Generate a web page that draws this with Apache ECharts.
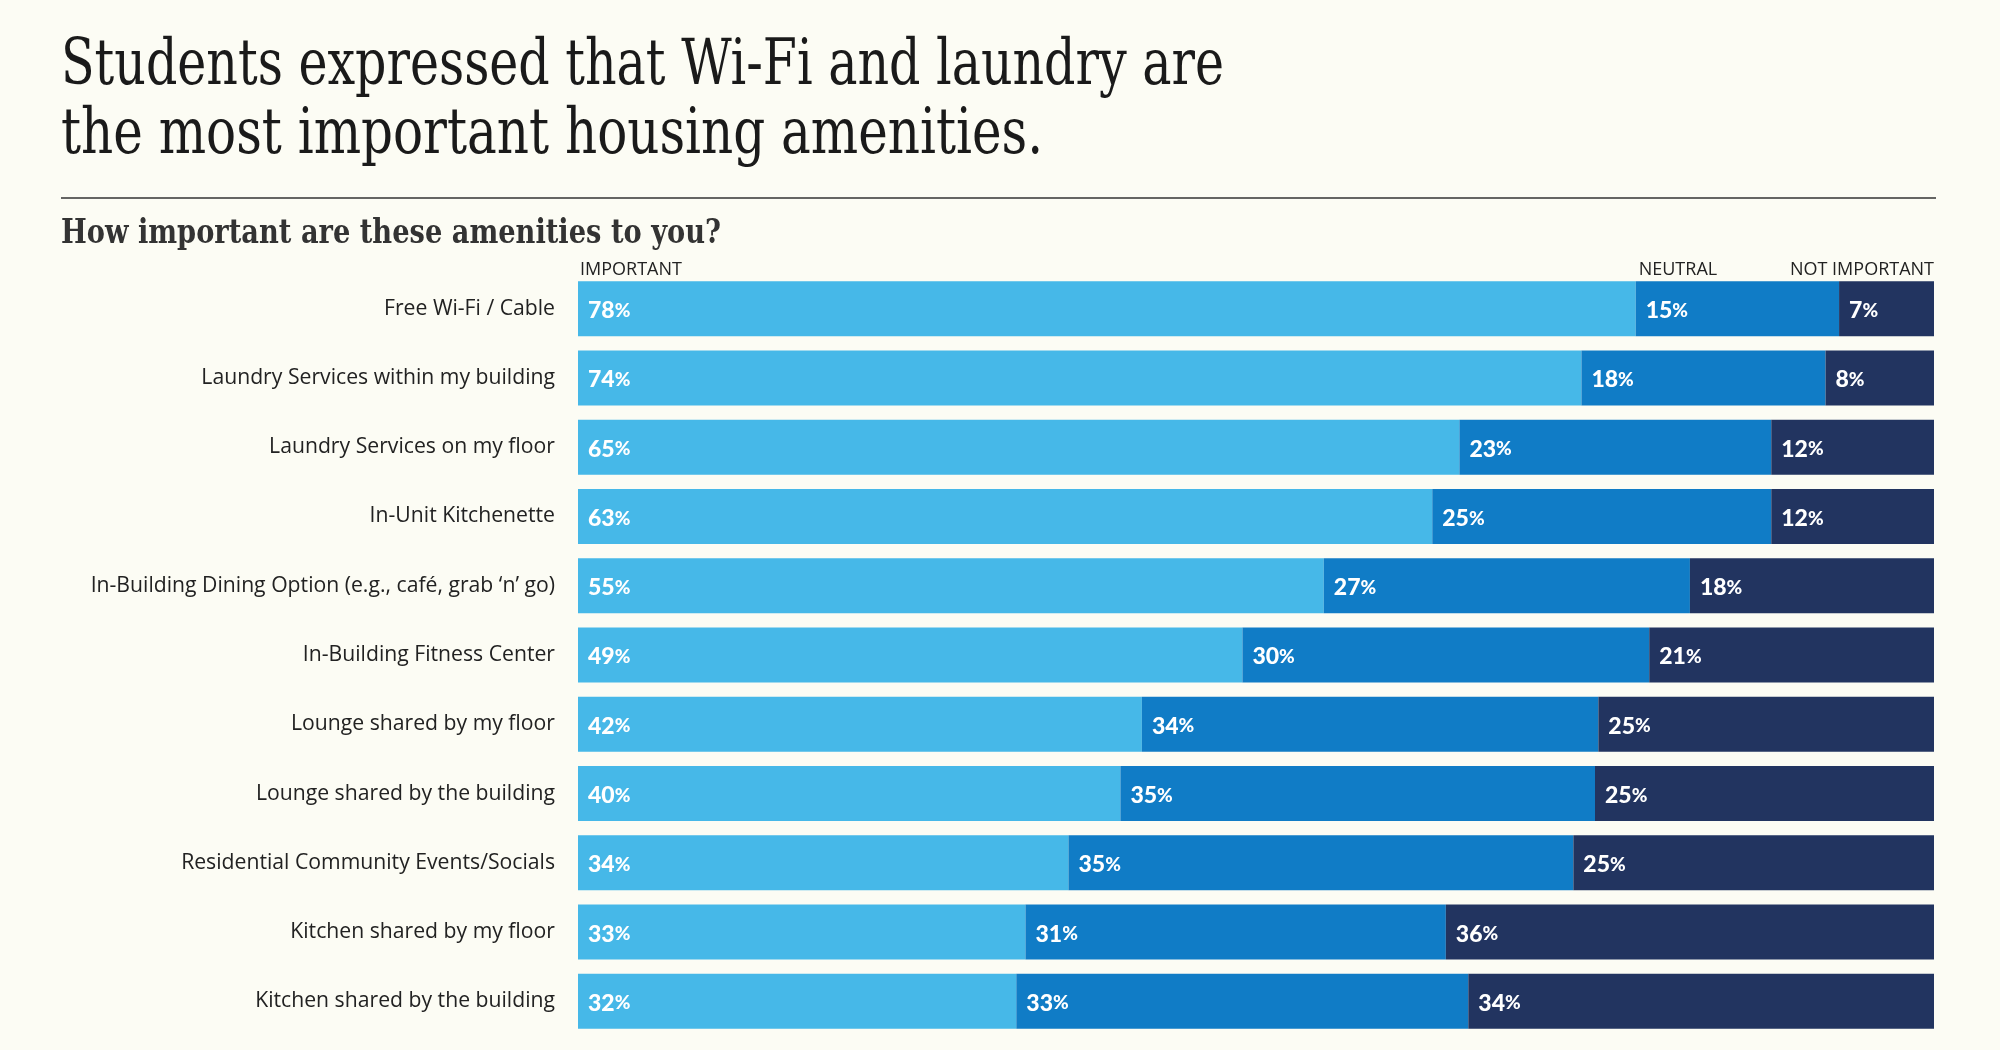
<!DOCTYPE html>
<html>
<head>
<meta charset="utf-8">
<script src="https://cdn.jsdelivr.net/npm/echarts@6/dist/echarts.min.js"></script>
<style>
  html, body { margin: 0; background: #fcfcf4; }
  #chart { width: 2000px; height: 1050px; }
</style>
</head>
<body>
<div id="chart"></div>
<script>
const categories = [
  'Free Wi-Fi / Cable',
  'Laundry Services within my building',
  'Laundry Services on my floor',
  'In-Unit Kitchenette',
  'In-Building Dining Option (e.g., café, grab ‘n’ go)',
  'In-Building Fitness Center',
  'Lounge shared by my floor',
  'Lounge shared by the building',
  'Residential Community Events/Socials',
  'Kitchen shared by my floor',
  'Kitchen shared by the building'
]
const important = [78, 74, 65, 63, 55, 49, 42, 40, 34, 33, 32]
const neutral = [15, 18, 23, 25, 27, 30, 34, 35, 35, 31, 33]
const notImportant = [7, 8, 12, 12, 18, 21, 25, 25, 25, 36, 34]
const headers = ['IMPORTANT', 'NEUTRAL', 'NOT IMPORTANT']

const titleLines = [
  'Students expressed that Wi-Fi and laundry are',
  'the most important housing amenities.'
]
const subtitle = 'How important are these amenities to you?'

// each bar is stretched to the full width, like in the original
const totals = important.map((v, i) => v + neutral[i] + notImportant[i])
const share = arr => arr.map((v, i) => v / totals[i] * 100)

const colors = ['#46b8e8', '#107cc6', '#223460']

// squeeze a serif text to the width it has in the original
function fit (text, font, width) {
  const ctx = document.createElement('canvas').getContext('2d')
  ctx.font = font
  return width / ctx.measureText(text).width
}

const titleFont = '64px "DejaVu Serif Condensed", "DejaVu Serif", serif'
const subFont = 'bold 33px "DejaVu Serif Condensed", "DejaVu Serif", serif'

function makeSeries (name, values, idx) {
  return {
    name,
    type: 'bar',
    stack: 'all',
    barWidth: 55,
    data: share(values),
    itemStyle: { color: colors[idx] },
    label: {
      show: true,
      position: 'insideLeft',
      distance: 10,
      offset: [0, 2],
      formatter: p => '{n|' + values[p.dataIndex] + '}{p|%}',
      rich: {
        n: { color: '#fff', fontSize: 23, fontWeight: 900, fontFamily: 'Lato' },
        p: { color: '#fff', fontSize: 19, fontWeight: 900, fontFamily: 'Lato' }
      }
    }
  }
}

const chart = echarts.init(document.getElementById('chart'))
chart.setOption({
  backgroundColor: '#fcfcf4',
  animation: false,
  grid: { left: 578, right: 66, top: 274, bottom: 14 },
  xAxis: { type: 'value', min: 0, max: 100, show: false },
  yAxis: {
    type: 'category',
    data: categories,
    inverse: true,
    axisLine: { show: false },
    axisTick: { show: false },
    axisLabel: {
      margin: 23,
      fontSize: 21.2,
      color: '#222',
      fontFamily: '"Open Sans", sans-serif'
    }
  },
  series: [
    makeSeries(headers[0], important, 0),
    makeSeries(headers[1], neutral, 1),
    makeSeries(headers[2], notImportant, 2)
  ]
})

// header positions follow the first bar
const x0 = chart.convertToPixel({ xAxisIndex: 0 }, 0)
const x1 = chart.convertToPixel({ xAxisIndex: 0 }, share(important)[0])
const x2 = chart.convertToPixel({ xAxisIndex: 0 }, 100)
const headStyle = { fontSize: 18, fontFamily: 'Open Sans', fill: '#222', verticalAlign: 'middle' }

chart.setOption({
  graphic: [
    { type: 'text', x: 61, y: 67, scaleX: fit(titleLines[0], titleFont, 1163), style: { text: titleLines[0], font: titleFont, fill: '#1a1a1a', verticalAlign: 'middle' } },
    { type: 'text', x: 61, y: 136, scaleX: fit(titleLines[1], titleFont, 982), style: { text: titleLines[1], font: titleFont, fill: '#1a1a1a', verticalAlign: 'middle' } },
    { type: 'line', shape: { x1: 61, y1: 198, x2: 1936, y2: 198 }, style: { stroke: '#333', lineWidth: 1.5 } },
    { type: 'text', x: 61, y: 234, scaleX: fit(subtitle, subFont, 660), style: { text: subtitle, font: subFont, fill: '#333', verticalAlign: 'middle' } },
    { type: 'text', x: x0 + 2, y: 270, style: Object.assign({ text: headers[0], align: 'left' }, headStyle) },
    { type: 'text', x: x1 + 3, y: 270, style: Object.assign({ text: headers[1], align: 'left' }, headStyle) },
    { type: 'text', x: x2, y: 270, style: Object.assign({ text: headers[2], align: 'right' }, headStyle) }
  ]
})
</script>
</body>
</html>
